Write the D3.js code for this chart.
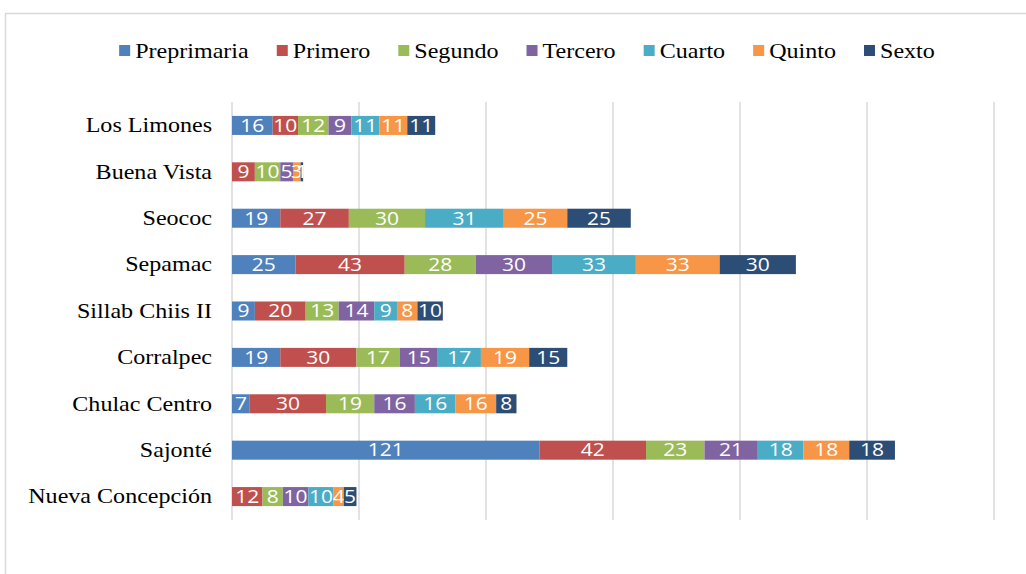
<!DOCTYPE html>
<html>
<head>
<meta charset="utf-8">
<script src="https://cdn.jsdelivr.net/npm/d3@7"></script>
<style>
  body { margin: 0; background: #fff; }
</style>
</head>
<body>
<script>
// schools, listed top to bottom
const schools = ["Los Limones", "Buena Vista", "Seococ", "Sepamac", "Sillab Chiis II",
  "Corralpec", "Chulac Centro", "Sajonté", "Nueva Concepción"];
const grades = ["Preprimaria", "Primero", "Segundo", "Tercero", "Cuarto", "Quinto", "Sexto"];
const colors = ["#4f81bd", "#c0504d", "#9bbb59", "#8064a2", "#4bacc6", "#f79646", "#2c4d75"];

// students per grade, one array per grade, same order as schools
const preprimaria = [16, 0, 19, 25, 9, 19, 7, 121, 0];
const primero     = [10, 9, 27, 43, 20, 30, 30, 42, 12];
const segundo     = [12, 10, 30, 28, 13, 17, 19, 23, 8];
const tercero     = [9, 5, 0, 30, 14, 15, 16, 21, 10];
const cuarto      = [11, 0, 31, 33, 9, 17, 16, 18, 10];
const quinto      = [11, 3, 25, 33, 8, 19, 16, 18, 4];
const sexto       = [11, 1, 25, 30, 10, 15, 8, 18, 5];
const xTicks = [0, 50, 100, 150, 200, 250, 300];

const series = [preprimaria, primero, segundo, tercero, cuarto, quinto, sexto];
const rows = schools.map((s, i) => {
  const r = {school: s};
  grades.forEach((g, j) => r[g] = series[j][i]);
  return r;
});

const width = 1026, height = 574;
const margin = {top: 102, right: 32, bottom: 54, left: 232};
const sx = 1.12;   // serif text is a bit wider than Liberation Serif
const lsx = 1.2;   // same for the bar labels

const svg = d3.select("body").append("svg")
  .attr("width", width).attr("height", height);

// chart frame
svg.append("rect")
  .attr("x", 5.5).attr("y", 13.5)
  .attr("width", width + 20).attr("height", height + 20)
  .attr("fill", "none").attr("stroke", "#d9d9d9").attr("stroke-width", 1.5);

const x = d3.scaleLinear().domain([0, 300]).range([margin.left, width - margin.right]);
const y = d3.scaleBand().domain(schools).range([margin.top, height - margin.bottom]).paddingInner(0.59).paddingOuter(0.3);

// gridlines
svg.append("g").selectAll("line")
  .data(xTicks)
  .join("line")
  .attr("x1", d => x(d)).attr("x2", d => x(d))
  .attr("y1", margin.top).attr("y2", height - margin.bottom)
  .attr("stroke", "#d9d9d9").attr("stroke-width", 1.5);

// category axis
const yAxis = svg.append("g")
  .attr("transform", `translate(${margin.left},0)`)
  .call(d3.axisLeft(y).tickSize(0).tickPadding(20));
yAxis.select(".domain").remove();
yAxis.selectAll("text")
  .attr("x", -20 / sx)
  .attr("transform", `scale(${sx},1)`)
  .attr("font-family", "'Liberation Serif', 'Times New Roman', serif")
  .attr("font-size", 21.5).attr("fill", "#000");

const stack = d3.stack().keys(grades);
const stacked = stack(rows);

const layers = svg.append("g").selectAll("g")
  .data(stacked)
  .join("g")
  .attr("fill", (d, i) => colors[i]);

layers.selectAll("rect")
  .data(d => d)
  .join("rect")
  .attr("x", d => x(d[0]))
  .attr("y", d => y(d.data.school))
  .attr("width", d => x(d[1]) - x(d[0]))
  .attr("height", y.bandwidth());

layers.selectAll("text")
  .data(d => d.filter(p => p[1] - p[0] > 0))
  .join("text")
  .attr("transform", d => `translate(${(x(d[0]) + x(d[1])) / 2},${y(d.data.school) + y.bandwidth() / 2}) scale(${lsx},1)`)
  .attr("dy", "0.36em")
  .attr("text-anchor", "middle")
  .attr("font-family", "'Open Sans', 'Liberation Sans', sans-serif")
  .attr("font-size", 17.5)
  .attr("fill", "#fff")
  .text(d => d[1] - d[0]);

// legend
const legend = svg.append("g");
const items = legend.selectAll("g")
  .data(grades)
  .join("g");
items.append("rect")
  .attr("y", -6).attr("width", 11).attr("height", 11)
  .attr("fill", (d, i) => colors[i]);
items.append("text")
  .attr("x", 16 / sx).attr("dy", "0.33em")
  .attr("transform", `scale(${sx},1)`)
  .attr("font-family", "'Liberation Serif', 'Times New Roman', serif")
  .attr("font-size", 21.5).attr("fill", "#000")
  .text(d => d);
let lx = 0;
const gap = 28;
items.each(function() {
  const t = d3.select(this).select("text").node().getComputedTextLength() * sx;
  d3.select(this).attr("transform", `translate(${lx},0)`);
  lx += 16 + t + gap;
});
const total = lx - gap;
legend.attr("transform", `translate(${527 - total / 2},51)`);
</script>
</body>
</html>
